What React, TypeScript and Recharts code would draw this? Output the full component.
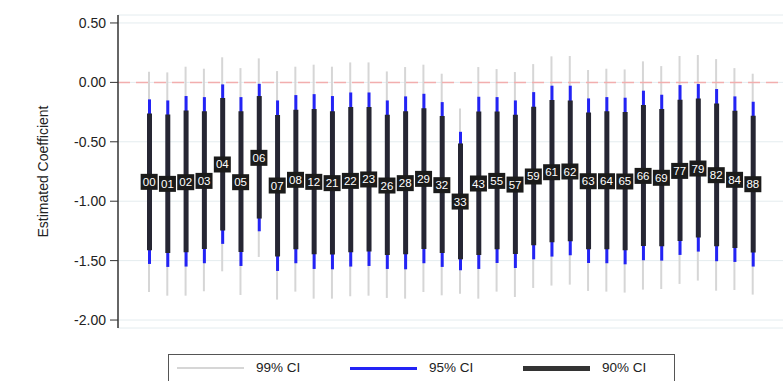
import { Bar, CartesianGrid, ComposedChart, ReferenceLine, Scatter, XAxis, YAxis } from 'recharts';

const FONT = '"Liberation Sans", Arial, sans-serif';
const C99 = '#d6d6d6';
const C95 = '#2323f5';
const C90 = '#262633';

// ---- valores ----
const codes = [
  '00', '01', '02', '03', '04', '05', '06', '07', '08', '12', '21', '22', '23', '26', '28', '29', '32',
  '33', '43', '55', '57', '59', '61', '62', '63', '64', '65', '66', '69', '77', '79', '82', '84', '88',
];
const est = [
  -0.837, -0.854, -0.84, -0.829, -0.691, -0.84, -0.635, -0.868, -0.82, -0.837, -0.848, -0.829, -0.817,
  -0.868, -0.848, -0.812, -0.865, -1.003, -0.851, -0.829, -0.86, -0.792, -0.756, -0.75, -0.832, -0.832,
  -0.834, -0.787, -0.803, -0.745, -0.725, -0.781, -0.82, -0.857,
];
const lo90 = [
  -1.413, -1.435, -1.43, -1.402, -1.247, -1.427, -1.146, -1.466, -1.404, -1.446, -1.449, -1.43, -1.424,
  -1.452, -1.446, -1.402, -1.435, -1.489, -1.452, -1.404, -1.444, -1.371, -1.345, -1.337, -1.404, -1.404,
  -1.413, -1.376, -1.379, -1.334, -1.306, -1.379, -1.393, -1.432,
];
const hi90 = [
  -0.261, -0.27, -0.236, -0.242, -0.132, -0.242, -0.115, -0.275, -0.231, -0.225, -0.242, -0.208, -0.208,
  -0.273, -0.242, -0.217, -0.284, -0.514, -0.245, -0.245, -0.273, -0.205, -0.149, -0.152, -0.253, -0.242,
  -0.25, -0.191, -0.225, -0.146, -0.135, -0.177, -0.239, -0.281,
];
const lo95 = [
  -1.528, -1.553, -1.55, -1.522, -1.359, -1.545, -1.253, -1.587, -1.522, -1.57, -1.573, -1.55, -1.545,
  -1.57, -1.573, -1.522, -1.553, -1.581, -1.57, -1.52, -1.562, -1.489, -1.466, -1.455, -1.52, -1.522,
  -1.531, -1.497, -1.5, -1.452, -1.424, -1.505, -1.511, -1.55,
];
const hi95 = [
  -0.143, -0.152, -0.115, -0.124, -0.017, -0.124, -0.012, -0.152, -0.107, -0.099, -0.115, -0.085, -0.085,
  -0.152, -0.118, -0.096, -0.166, -0.416, -0.121, -0.124, -0.152, -0.082, -0.028, -0.028, -0.135, -0.124,
  -0.129, -0.07, -0.104, -0.023, -0.014, -0.056, -0.118, -0.163,
];
const lo99 = [
  -1.764, -1.795, -1.795, -1.758, -1.59, -1.789, -1.469, -1.828, -1.761, -1.82, -1.82, -1.8, -1.795,
  -1.814, -1.82, -1.764, -1.792, -1.778, -1.82, -1.761, -1.806, -1.73, -1.71, -1.702, -1.755, -1.761,
  -1.769, -1.744, -1.739, -1.696, -1.668, -1.753, -1.747, -1.786,
];
const hi99 = [
  0.09, 0.084, 0.132, 0.115, 0.211, 0.12, 0.202, 0.095, 0.132, 0.149, 0.132, 0.168, 0.168, 0.092, 0.129,
  0.149, 0.073, -0.219, 0.129, 0.112, 0.087, 0.154, 0.219, 0.222, 0.104, 0.115, 0.109, 0.177, 0.137,
  0.222, 0.23, 0.196, 0.12, 0.073,
];
const yTicks = [0.5, 0, -0.5, -1, -1.5, -2];

const rows = codes.map((code, i) => ({
  code,
  est: est[i],
  ci90: [lo90[i], hi90[i]],
  ci95: [lo95[i], hi95[i]],
  ci99: [lo99[i], hi99[i]],
}));

const PAD = { left: 22, right: 21 };

// caja oscura con el código del estimador
function CodeBox(props: any) {
  const { cx, cy, payload } = props;
  if (cx == null || cy == null) return null;
  return (
    <g>
      <rect x={cx - 8.5} y={cy - 8} width={17} height={16} fill="#1b1b1b" />
      <text
        x={cx}
        y={cy + 4}
        textAnchor="middle"
        fill="#ffffff"
        fontSize={11.5}
        fontFamily={FONT}
      >
        {payload.code}
      </text>
    </g>
  );
}

function LegendBox() {
  const item = (left: number, color: string, thick: number, label: string) => (
    <>
      <div
        style={{
          position: 'absolute',
          left: left - 168,
          top: 13 - thick / 2,
          width: 67,
          height: thick,
          background: color,
        }}
      />
      <div style={{ position: 'absolute', left: left - 168 + 79, top: 5, fontSize: 13.5, color: '#222' }}>
        {label}
      </div>
    </>
  );
  return (
    <div
      style={{
        position: 'absolute',
        left: 168,
        top: 354,
        width: 507,
        height: 32,
        border: '1px solid #555',
        boxSizing: 'border-box',
        fontFamily: FONT,
        background: '#fff',
      }}
    >
      {item(176, C99, 2, '99% CI')}
      {item(349, C95, 3, '95% CI')}
      {item(522, '#333333', 5, '90% CI')}
    </div>
  );
}

export default function App() {
  return (
    <div style={{ position: 'absolute', left: 0, top: 0, width: 783, height: 381, background: '#fff', overflow: 'hidden' }}>
      <ComposedChart width={783} height={381} data={rows} margin={{ top: 15, right: 0, bottom: 0, left: 0 }}>
        <CartesianGrid vertical={false} stroke="#e4ecef" />
        <XAxis
          xAxisId="main"
          dataKey="code"
          padding={PAD}
          height={53}
          tick={false}
          tickLine={false}
          axisLine={{ stroke: '#333', strokeWidth: 1.5 }}
        />
        <XAxis xAxisId="c95" dataKey="code" padding={PAD} hide />
        <XAxis xAxisId="c99" dataKey="code" padding={PAD} hide />
        <YAxis
          domain={[-2.067, 0.567]}
          ticks={yTicks}
          width={118}
          tickFormatter={(v) => Number(v).toFixed(2)}
          tick={{ fontSize: 14, fill: '#222', fontFamily: FONT }}
          tickSize={8}
          tickMargin={4}
          tickLine={{ stroke: '#333' }}
          axisLine={{ stroke: '#333', strokeWidth: 1.5 }}
          label={{
            content: () => (
              <text
                x={48}
                y={171.5}
                transform="rotate(-90 48 171.5)"
                textAnchor="middle"
                fontSize={14}
                fill="#222"
                fontFamily={FONT}
              >
                Estimated Coefficient
              </text>
            ),
          }}
        />
        <ReferenceLine xAxisId="main" y={0} stroke="#f2aeae" strokeWidth={1.5} strokeDasharray="12 6" />
        <Bar xAxisId="c99" dataKey="ci99" barSize={2} fill={C99} isAnimationActive={false} />
        <Bar xAxisId="c95" dataKey="ci95" barSize={3} fill={C95} isAnimationActive={false} />
        <Bar xAxisId="main" dataKey="ci90" barSize={5} fill={C90} isAnimationActive={false} />
        <Scatter xAxisId="main" dataKey="est" shape={CodeBox} isAnimationActive={false} />
      </ComposedChart>
      <LegendBox />
    </div>
  );
}
